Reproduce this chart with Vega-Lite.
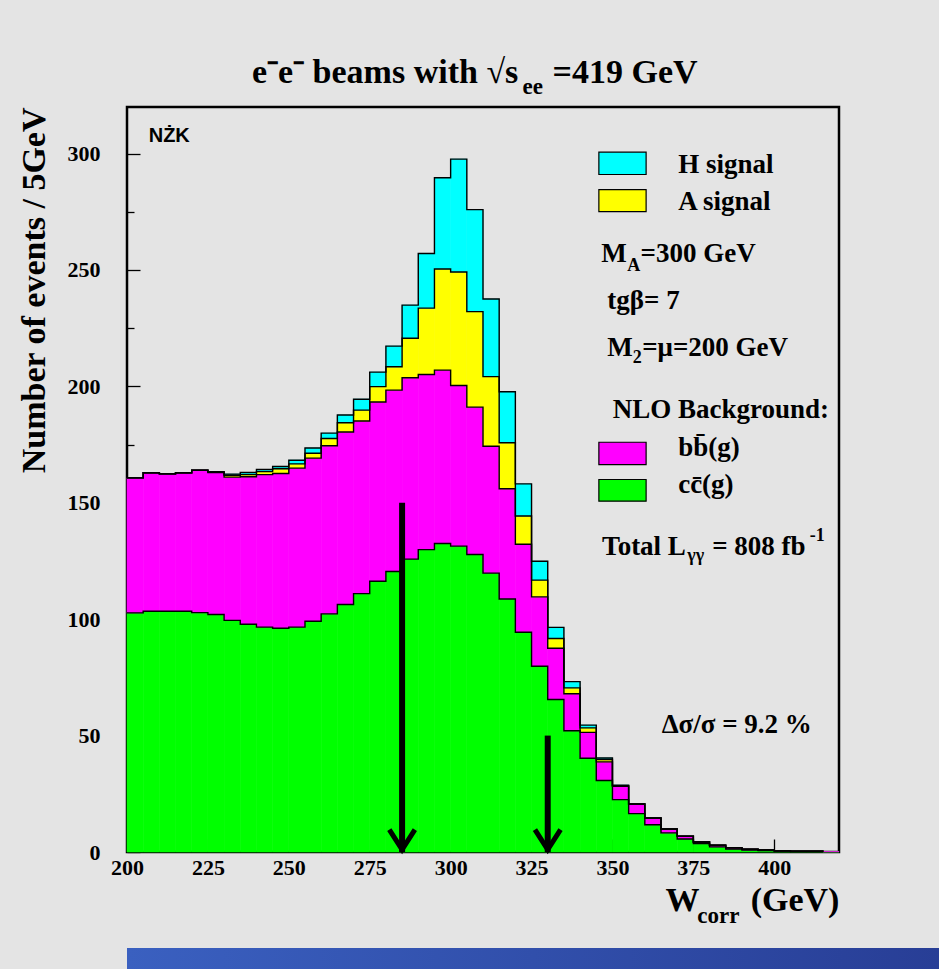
{
  "$schema": "https://vega.github.io/schema/vega-lite/v6.json",
  "background": "#e4e4e4",
  "padding": {"left": 15, "top": 55, "right": 0, "bottom": 0},
  "spacing": 18,
  "columns": 1,
  "datasets": {
    "hist": [
      {"x": 200, "x2": 205, "cc": 102.7, "bb": 58.0, "A": 0, "H": 0},
      {"x": 205, "x2": 210, "cc": 103.4, "bb": 59.5, "A": 0, "H": 0},
      {"x": 210, "x2": 215, "cc": 103.4, "bb": 59.0, "A": 0, "H": 0},
      {"x": 215, "x2": 220, "cc": 103.4, "bb": 59.5, "A": 0, "H": 0},
      {"x": 220, "x2": 225, "cc": 102.8, "bb": 61.2, "A": 0, "H": 0},
      {"x": 225, "x2": 230, "cc": 102.0, "bb": 61.0, "A": 0.2, "H": 0.2},
      {"x": 230, "x2": 235, "cc": 99.5, "bb": 61.5, "A": 0.8, "H": 0.5},
      {"x": 235, "x2": 240, "cc": 97.8, "bb": 63.4, "A": 0.9, "H": 0.9},
      {"x": 240, "x2": 245, "cc": 96.6, "bb": 65.5, "A": 1.3, "H": 0.9},
      {"x": 245, "x2": 250, "cc": 96.1, "bb": 66.5, "A": 2.0, "H": 1.0},
      {"x": 250, "x2": 255, "cc": 96.6, "bb": 68.3, "A": 1.8, "H": 1.6},
      {"x": 255, "x2": 260, "cc": 99.1, "bb": 70.1, "A": 2.1, "H": 2.2},
      {"x": 260, "x2": 265, "cc": 102.3, "bb": 72.2, "A": 3.1, "H": 2.3},
      {"x": 265, "x2": 270, "cc": 106.3, "bb": 74.1, "A": 4.0, "H": 3.3},
      {"x": 270, "x2": 275, "cc": 111.0, "bb": 74.1, "A": 4.7, "H": 4.7},
      {"x": 275, "x2": 280, "cc": 116.3, "bb": 77.0, "A": 6.6, "H": 6.2},
      {"x": 280, "x2": 285, "cc": 120.5, "bb": 77.9, "A": 10.0, "H": 8.9},
      {"x": 285, "x2": 290, "cc": 125.8, "bb": 77.9, "A": 17.0, "H": 14.2},
      {"x": 290, "x2": 295, "cc": 129.9, "bb": 75.2, "A": 28.5, "H": 23.5},
      {"x": 295, "x2": 300, "cc": 132.5, "bb": 74.5, "A": 43.4, "H": 39.2},
      {"x": 300, "x2": 305, "cc": 131.4, "bb": 69.0, "A": 48.7, "H": 48.5},
      {"x": 305, "x2": 310, "cc": 127.8, "bb": 63.3, "A": 41.0, "H": 43.8},
      {"x": 310, "x2": 315, "cc": 119.8, "bb": 54.5, "A": 29.9, "H": 33.3},
      {"x": 315, "x2": 320, "cc": 108.7, "bb": 47.3, "A": 19.8, "H": 21.9},
      {"x": 320, "x2": 325, "cc": 94.4, "bb": 37.8, "A": 12.1, "H": 13.8},
      {"x": 325, "x2": 330, "cc": 79.8, "bb": 29.8, "A": 7.2, "H": 8.1},
      {"x": 330, "x2": 335, "cc": 65.5, "bb": 22.0, "A": 4.2, "H": 4.8},
      {"x": 335, "x2": 340, "cc": 52.1, "bb": 15.9, "A": 2.5, "H": 2.7},
      {"x": 340, "x2": 345, "cc": 40.3, "bb": 11.1, "A": 1.9, "H": 1.2},
      {"x": 345, "x2": 350, "cc": 30.7, "bb": 8.0, "A": 1.0, "H": 0.7},
      {"x": 350, "x2": 355, "cc": 22.5, "bb": 5.7, "A": 0.3, "H": 0.2},
      {"x": 355, "x2": 360, "cc": 16.5, "bb": 4.1, "A": 0, "H": 0},
      {"x": 360, "x2": 365, "cc": 11.7, "bb": 2.9, "A": 0, "H": 0},
      {"x": 365, "x2": 370, "cc": 8.2, "bb": 1.7, "A": 0, "H": 0},
      {"x": 370, "x2": 375, "cc": 5.6, "bb": 1.2, "A": 0, "H": 0},
      {"x": 375, "x2": 380, "cc": 3.6, "bb": 0.7, "A": 0, "H": 0},
      {"x": 380, "x2": 385, "cc": 2.2, "bb": 0.7, "A": 0, "H": 0},
      {"x": 385, "x2": 390, "cc": 1.3, "bb": 0.6, "A": 0, "H": 0},
      {"x": 390, "x2": 395, "cc": 0.8, "bb": 0.4, "A": 0, "H": 0},
      {"x": 395, "x2": 400, "cc": 0.6, "bb": 0.3, "A": 0, "H": 0},
      {"x": 400, "x2": 405, "cc": 0.4, "bb": 0.1, "A": 0, "H": 0},
      {"x": 405, "x2": 410, "cc": 0.2, "bb": 0.1, "A": 0, "H": 0},
      {"x": 410, "x2": 415, "cc": 0.2, "bb": 0.1, "A": 0, "H": 0},
      {"x": 415, "x2": 420, "cc": 0.1, "bb": 0.1, "A": 0, "H": 0}
    ],
    "procs": [
      {"key": "cc", "ord": 1},
      {"key": "bb", "ord": 2},
      {"key": "A", "ord": 3},
      {"key": "H", "ord": 4}
    ],
    "xminor": [
      {"x": 205}, {"x": 210}, {"x": 215}, {"x": 220},
      {"x": 230}, {"x": 235}, {"x": 240}, {"x": 245},
      {"x": 255}, {"x": 260}, {"x": 265}, {"x": 270},
      {"x": 280}, {"x": 285}, {"x": 290}, {"x": 295},
      {"x": 305}, {"x": 310}, {"x": 315}, {"x": 320},
      {"x": 330}, {"x": 335}, {"x": 340}, {"x": 345},
      {"x": 355}, {"x": 360}, {"x": 365}, {"x": 370},
      {"x": 380}, {"x": 385}, {"x": 390}, {"x": 395},
      {"x": 405}, {"x": 410}, {"x": 415}
    ],
    "swatches": [
      {"key": "H", "x": 345.8, "x2": 360.4, "y": 300.6, "y2": 291.0},
      {"key": "A", "x": 345.8, "x2": 360.4, "y": 284.5, "y2": 275.1},
      {"key": "bb", "x": 345.8, "x2": 360.4, "y": 176.0, "y2": 166.4},
      {"key": "cc", "x": 345.8, "x2": 360.4, "y": 160.0, "y2": 150.7}
    ],
    "txt": [
      {"x": 370.3, "y": 291.7, "t": "H signal"},
      {"x": 370.3, "y": 275.9, "t": "A signal"},
      {"x": 346.5, "y": 253.3, "t": "M"},
      {"x": 358.7, "y": 253.3, "t": "=300 GeV"},
      {"x": 348.4, "y": 233.3, "t": "tgβ= 7"},
      {"x": 348.4, "y": 213.2, "t": "M"},
      {"x": 359.2, "y": 213.2, "t": "=μ=200 GeV"},
      {"x": 350.1, "y": 186.5, "t": "NLO Background:"},
      {"x": 370.3, "y": 170.0, "t": "bb̄(g)"},
      {"x": 370.3, "y": 154.3, "t": "cc̄(g)"},
      {"x": 346.8, "y": 127.7, "t": "Total L"},
      {"x": 380.8, "y": 127.7, "t": "= 808 fb"},
      {"x": 365.2, "y": 50.9, "t": "Δσ/σ = 9.2 %"}
    ],
    "subtxt": [
      {"x": 354.6, "y": 249.5, "t": "A"},
      {"x": 356.3, "y": 210.1, "t": "2"},
      {"x": 373.1, "y": 125.0, "t": "γγ"},
      {"x": 411.0, "y": 133.5, "t": "-1"}
    ],
    "logo": [{"x": 206.7, "y": 305.0, "t": "NŻK"}],
    "bigtxt": [
      {"x": 238.6, "y": 330.1, "t": "e⁻e⁻ beams with √s"},
      {"x": 331.5, "y": 330.1, "t": "=419 GeV"},
      {"x": 366.4, "y": -25.4, "t": "W"},
      {"x": 392.7, "y": -25.4, "t": "(GeV)"}
    ],
    "bigsub": [
      {"x": 322.2, "y": 325.4, "t": "ee"},
      {"x": 376.2, "y": -30.5, "t": "corr"}
    ],
    "arrows": [
      {"x": 285, "y": 150},
      {"x": 330, "y": 50}
    ]
  },
  "concat": [
    {
      "width": 712,
      "height": 745,
      "view": {"stroke": "black", "strokeWidth": 2.5, "fill": "#e4e4e4"},
      "encoding": {
        "x": {"field": "x", "type": "quantitative", "scale": {"domain": [200, 420], "nice": false, "zero": false},
          "axis": {
            "values": [200, 225, 250, 275, 300, 325, 350, 375, 400],
            "title": null, "domain": false, "grid": false,
            "tickColor": "black", "tickWidth": 1.3, "tickSize": -13,
            "labelPadding": 18, "labelOverlap": false, "labelFlush": false,
            "labelFont": "Liberation Serif", "labelFontWeight": "bold", "labelFontSize": 22, "labelColor": "black"
          }},
        "y": {"field": "y", "type": "quantitative", "scale": {"domain": [0, 320], "nice": false},
          "axis": {
            "values": [0,25,50,75,100,125,150,175,200,225,250,275,300],
            "labelExpr": "datum.value % 50 === 0 ? datum.label : ''",
            "title": "Number of events / 5GeV", "titleAnchor": "end", "titlePadding": 16,
            "titleFont": "Liberation Serif", "titleFontWeight": "bold", "titleFontSize": 34, "titleColor": "black",
            "domain": false, "grid": false,
            "tickColor": "black", "tickWidth": 1.3,
            "tickSize": {"condition": {"test": "datum.value % 50 === 0", "value": -13}, "value": -7},
            "labelPadding": 40, "labelOverlap": false,
            "labelFont": "Liberation Serif", "labelFontWeight": "bold", "labelFontSize": 22, "labelColor": "black"
          }}
      },
      "layer": [
        {
          "data": {"name": "hist"},
          "transform": [
            {"fold": ["cc", "bb", "A", "H"], "as": ["key", "n"]},
            {"lookup": "key", "from": {"data": {"name": "procs"}, "key": "key", "fields": ["ord"]}},
            {"stack": "n", "groupby": ["x"], "sort": [{"field": "ord", "order": "ascending"}], "as": ["y2", "y"]},
            {"filter": "datum.n > 0"}
          ],
          "mark": {"type": "rect", "strokeWidth": 0.6},
          "encoding": {
            "x2": {"field": "x2"},
            "y2": {"field": "y2"},
            "fill": {"field": "key", "type": "nominal", "scale": {"domain": ["H", "A", "bb", "cc"], "range": ["#00ffff", "#ffff00", "#ff00ff", "#00ff00"]}, "legend": null},
            "stroke": {"field": "key", "type": "nominal", "scale": {"domain": ["H", "A", "bb", "cc"], "range": ["#00ffff", "#ffff00", "#ff00ff", "#00ff00"]}, "legend": null}
          }
        },
        {
          "data": {"name": "hist"},
          "transform": [
            {"fold": ["cc", "bb", "A", "H"], "as": ["key", "n"]},
            {"lookup": "key", "from": {"data": {"name": "procs"}, "key": "key", "fields": ["ord"]}},
            {"stack": "n", "groupby": ["x"], "sort": [{"field": "ord", "order": "ascending"}], "as": ["y2", "y"]}
          ],
          "mark": {"type": "line", "interpolate": "step-after", "color": "black", "strokeWidth": 1.4},
          "encoding": {
            "detail": {"field": "key"}
          }
        },
        {
          "data": {"name": "xminor"},
          "mark": {"type": "rule", "color": "black", "strokeWidth": 1.3},
          "encoding": {
            "y": {"datum": 0},
            "y2": {"datum": 3}
          }
        },
        {
          "data": {"name": "arrows"},
          "mark": {"type": "rule", "color": "black", "strokeWidth": 6, "strokeCap": "butt"},
          "encoding": {
            "y2": {"datum": 0}
          }
        },
        {
          "data": {"name": "arrows"},
          "mark": {"type": "point", "shape": "M-1,-1.56L0,0L1,-1.56", "size": 655, "filled": false, "stroke": "black", "strokeWidth": 5, "opacity": 1, "strokeJoin": "miter"},
          "encoding": {
            "y": {"datum": 1}
          }
        },
        {
          "data": {"name": "swatches"},
          "mark": {"type": "rect", "stroke": "black", "strokeWidth": 1.2},
          "encoding": {
            "x2": {"field": "x2"},
            "y2": {"field": "y2"},
            "fill": {"field": "key", "type": "nominal", "legend": null}
          }
        },
        {
          "data": {"name": "txt"},
          "mark": {"type": "text", "align": "left", "baseline": "alphabetic", "font": "Liberation Serif", "fontWeight": "bold", "fontSize": 27, "color": "black", "clip": false},
          "encoding": {"text": {"field": "t"}}
        },
        {
          "data": {"name": "subtxt"},
          "mark": {"type": "text", "align": "left", "baseline": "alphabetic", "font": "Liberation Serif", "fontWeight": "bold", "fontSize": 18, "color": "black", "clip": false},
          "encoding": {"text": {"field": "t"}}
        },
        {
          "data": {"name": "logo"},
          "mark": {"type": "text", "align": "left", "baseline": "alphabetic", "font": "Liberation Sans", "fontWeight": "bold", "fontSize": 20, "color": "black", "clip": false},
          "encoding": {"text": {"field": "t"}}
        },
        {
          "data": {"name": "bigtxt"},
          "mark": {"type": "text", "align": "left", "baseline": "alphabetic", "font": "Liberation Serif", "fontWeight": "bold", "fontSize": 34, "color": "black", "clip": false},
          "encoding": {"text": {"field": "t"}}
        },
        {
          "data": {"name": "bigsub"},
          "mark": {"type": "text", "align": "left", "baseline": "alphabetic", "font": "Liberation Serif", "fontWeight": "bold", "fontSize": 23, "color": "black", "clip": false},
          "encoding": {"text": {"field": "t"}}
        }
      ]
    },
    {
      "width": 812,
      "height": 22,
      "view": {"stroke": null, "fill": {"gradient": "linear", "x1": 0, "y1": 0, "x2": 1, "y2": 0, "stops": [{"offset": 0, "color": "#3a60c0"}, {"offset": 1, "color": "#283e96"}]}},
      "data": {"values": [{}]},
      "mark": {"type": "point", "opacity": 0},
      "encoding": {}
    }
  ]
}
